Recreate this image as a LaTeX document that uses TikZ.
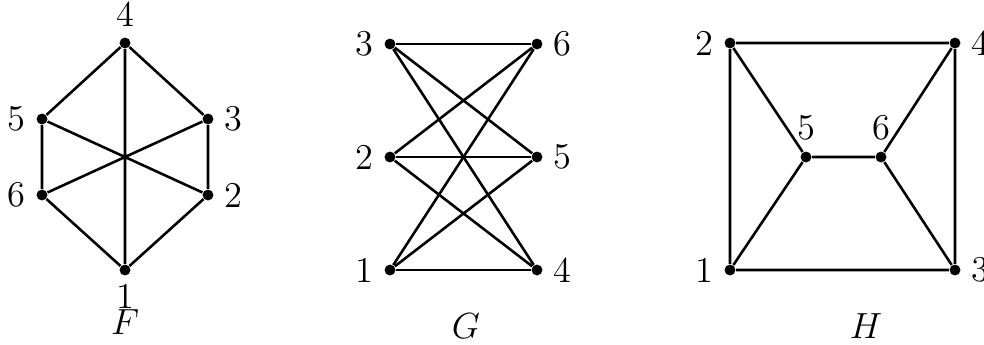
\documentclass[tikz,border=0pt]{standalone}
\usepackage{tikz}
\usetikzlibrary{positioning}

\begin{document}
\begin{tikzpicture}[
x=0.33pt, y=-0.33pt,
vert/.style={circle, fill=black, inner sep=0pt, minimum size=3.6pt, label distance=1.5pt},
edge/.style={line width=0.85pt},
lbl/.style={font=\large}
]
\useasboundingbox (0,0) rectangle (984,344);
% graph F
\node[vert, label={[lbl]above:4}] (f4) at (125,43) {};
\node[vert, label={[lbl]left:5}] (f5) at (42,119) {};
\node[vert, label={[lbl]right:3}] (f3) at (208,119) {};
\node[vert, label={[lbl]left:6}] (f6) at (42,195) {};
\node[vert, label={[lbl]right:2}] (f2) at (208,195) {};
\node[vert, label={[lbl,inner sep=0pt,label distance=2.5pt]below:1}] (f1) at (125,270) {};
\node[lbl, inner sep=0pt] (fname) at (125,322) {$F$};
\draw[edge] (f4) -- (f5) (f4) -- (f3) (f4) -- (f1) (f5) -- (f6) (f3) -- (f2)
  (f5) -- (f2) (f6) -- (f3) (f6) -- (f1) (f2) -- (f1);
% graph G
\node[vert, label={[lbl]left:3}] (g3) at (390,44) {};
\node[vert, label={[lbl]left:2}] (g2) at (390,157) {};
\node[vert, label={[lbl]left:1}] (g1) at (390,270) {};
\node[vert, label={[lbl]right:6}] (g6) at (537,44) {};
\node[vert, label={[lbl]right:5}] (g5) at (537,157) {};
\node[vert, label={[lbl]right:4}] (g4) at (537,270) {};
\node[lbl] (gname) at (466,326) {$G$};
\foreach \a in {1,2,3}
  \foreach \b in {4,5,6}
    \draw[edge] (g\a) -- (g\b);
% graph H
\node[vert, label={[lbl]left:2}] (h2) at (730,43) {};
\node[vert, label={[lbl]right:4}] (h4) at (955,43) {};
\node[vert, label={[lbl]left:1}] (h1) at (730,270) {};
\node[vert, label={[lbl]right:3}] (h3) at (955,270) {};
\node[vert, label={[lbl]above:5}] (h5) at (806,157) {};
\node[vert, label={[lbl]above:6}] (h6) at (881,157) {};
\node[lbl] (hname) at (866,326) {$H$};
\draw[edge] (h2) -- (h4) -- (h3) -- (h1) -- (h2) (h2) -- (h5) -- (h1)
  (h5) -- (h6) (h4) -- (h6) -- (h3);
\end{tikzpicture}
\end{document}
